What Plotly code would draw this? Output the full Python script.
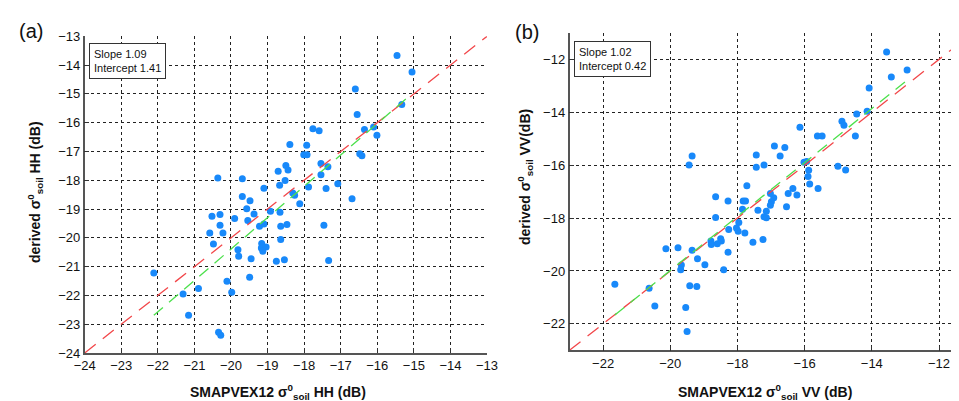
import plotly.graph_objects as go

W, H = 959, 401

# ---------------- data ----------------
hh_smap = [-20.36, -19.69, -19.10, -18.71, -15.46, -15.05, -16.60, -15.33, -16.55, -16.35,
           -16.10, -16.01, -17.76, -17.59, -18.39, -17.93, -18.01, -17.92, -16.48, -16.42,
           -17.54, -17.35, -18.50, -18.52, -18.67, -17.54, -17.08, -17.88, -17.40, -16.69,
           -18.31, -18.26, -18.12, -18.92, -18.66, -19.22, -19.10, -18.64, -18.47, -17.46,
           -18.64, -19.16, -19.17, -19.04, -19.13, -18.76, -18.54, -17.33, -22.11, -21.31,
           -20.89, -21.16, -20.34, -20.28, -20.11, -19.98, -19.49, -20.58, -20.48, -20.52,
           -20.30, -20.30, -20.22, -19.90, -19.81, -19.79, -19.69, -19.48, -19.57, -19.54,
           -19.37, -19.45, -18.44]
hh_derived = [-17.92, -17.95, -18.28, -17.69, -13.67, -14.24, -14.83, -15.37, -15.72, -16.24,
              -16.15, -16.44, -16.21, -16.28, -16.76, -16.78, -17.11, -17.11, -17.08, -17.15,
              -17.42, -17.53, -17.49, -18.01, -18.17, -17.81, -18.12, -18.23, -18.29, -18.64,
              -18.44, -18.52, -18.82, -19.08, -19.11, -19.60, -19.52, -19.60, -19.54, -19.56,
              -20.06, -20.20, -20.35, -20.32, -20.47, -20.81, -20.76, -20.79, -21.22, -21.95,
              -21.76, -22.69, -23.28, -23.38, -21.51, -21.89, -21.37, -19.83, -20.21, -19.25,
              -19.19, -19.56, -19.83, -19.33, -20.41, -20.64, -18.56, -18.71, -18.99, -19.40,
              -19.17, -20.73, -17.64]

vv_smap = [-19.35, -19.44, -17.44, -17.44, -17.72, -13.56, -13.42, -12.95, -14.08, -14.14,
           -14.45, -14.89, -14.83, -14.49, -15.62, -15.48, -16.14, -16.90, -16.59, -16.73,
           -17.21, -16.02, -15.94, -15.88, -15.90, -15.85, -15.01, -14.78, -16.35, -15.60,
           -16.49, -16.23, -16.92, -17.02, -16.99, -17.02, -16.54, -17.39, -17.14, -17.21,
           -17.14, -17.54, -17.24, -18.65, -18.28, -17.83, -17.76, -17.85, -18.65, -17.96,
           -18.03, -17.98, -18.26, -17.78, -18.79, -18.78, -18.60, -18.50, -18.48, -18.28,
           -18.41, -18.97, -19.19, -19.35, -19.77, -20.13, -19.67, -19.69, -19.42, -19.21,
           -20.63, -20.46, -19.54, -19.50, -21.65]
vv_derived = [-15.65, -15.99, -15.61, -16.08, -16.78, -11.72, -12.66, -12.40, -13.08, -13.96,
              -14.06, -14.34, -14.49, -14.90, -14.90, -14.90, -14.56, -15.27, -15.33, -15.65,
              -15.99, -15.89, -15.86, -16.19, -16.43, -16.71, -16.04, -16.18, -16.88, -16.88,
              -17.07, -17.13, -17.23, -17.07, -17.38, -17.51, -17.57, -17.70, -17.74, -17.95,
              -17.99, -18.91, -18.81, -17.19, -17.35, -17.35, -17.35, -17.67, -17.98, -18.17,
              -18.37, -18.50, -18.43, -18.56, -18.87, -19.00, -18.97, -18.78, -18.87, -19.29,
              -19.95, -19.76, -19.54, -19.22, -19.12, -19.16, -19.77, -19.95, -20.56, -20.59,
              -20.65, -21.32, -21.38, -22.29, -20.50]

hh_slope, hh_intercept = 1.09, 1.41
vv_slope, vv_intercept = 1.02, 0.42

hh_range = [-24, -13]
vv_xrange = [-23, -11.167]
vv_yrange = [-23, -11]

# ---------------- styling ----------------
PT_COLOR = "#1889FA"
RED = "#F2474A"
GREEN = "#4CE04C"
FONT = "Liberation Sans, Arial, Helvetica, sans-serif"


def px_x(p):
    return p / W


def px_y(p):
    return 1 - p / H


fig = go.Figure()

# Panel (a)
fig.add_trace(go.Scatter(x=hh_smap, y=hh_derived, mode="markers",
                         marker=dict(color=PT_COLOR, size=7, line=dict(width=0)),
                         xaxis="x", yaxis="y", showlegend=False))
fig.add_trace(go.Scatter(x=hh_range, y=hh_range, mode="lines",
                         line=dict(color=RED, width=1.3, dash="14px,9px"),
                         xaxis="x", yaxis="y", showlegend=False))
hx = [min(hh_smap), max(hh_smap)]
fig.add_trace(go.Scatter(x=hx, y=[hh_slope * v + hh_intercept for v in hx], mode="lines",
                         line=dict(color=GREEN, width=1.3, dash="12px,8px"),
                         xaxis="x", yaxis="y", showlegend=False))

# Panel (b)
fig.add_trace(go.Scatter(x=vv_smap, y=vv_derived, mode="markers",
                         marker=dict(color=PT_COLOR, size=7, line=dict(width=0)),
                         xaxis="x2", yaxis="y2", showlegend=False))
fig.add_trace(go.Scatter(x=[-23, -11], y=[-23, -11], mode="lines",
                         line=dict(color=RED, width=1.3, dash="14px,9px"),
                         xaxis="x2", yaxis="y2", showlegend=False))
vx = [min(vv_smap), max(vv_smap)]
fig.add_trace(go.Scatter(x=vx, y=[vv_slope * v + vv_intercept for v in vx], mode="lines",
                         line=dict(color=GREEN, width=1.3, dash="12px,8px"),
                         xaxis="x2", yaxis="y2", showlegend=False))

common = dict(showgrid=True, gridcolor="#222222", griddash="dot", gridwidth=1.2,
              showline=True, linecolor="#555555", linewidth=1.5,
              ticks="inside", ticklen=5, tickwidth=1.3, tickcolor="#333333",
              zeroline=False, tickfont=dict(family=FONT, size=13, color="#111111"),
              automargin=False)

fig.update_layout(
    width=W, height=H,
    margin=dict(l=0, r=0, t=0, b=0),
    paper_bgcolor="white", plot_bgcolor="white",
    font=dict(family=FONT, color="#111111"),
    xaxis=dict(domain=[px_x(76.7), px_x(479)], range=hh_range, tick0=-24, dtick=1,
               anchor="y", **common),
    yaxis=dict(domain=[px_y(345), px_y(28.3)], range=hh_range, tick0=-24, dtick=1,
               anchor="x", **common),
    xaxis2=dict(domain=[px_x(561.5), 1.0], range=vv_xrange, tick0=-22, dtick=2,
                anchor="y2", **common),
    yaxis2=dict(domain=[px_y(342.3), px_y(25)], range=vv_yrange, tick0=-22, dtick=2,
                anchor="x2", **common),
)

title_font = dict(family=FONT, size=14, color="#111111")
ann = [
    dict(text="<b>SMAPVEX12 σ<sup>0</sup><sub>soil</sub> HH (dB)</b>", x=px_x(270), y=px_y(384),
         font=title_font),
    dict(text="<b>derived σ<sup>0</sup><sub>soil</sub> HH (dB)</b>", x=px_x(27), y=px_y(184),
         font=title_font, textangle=-90),
    dict(text="<b>SMAPVEX12 σ<sup>0</sup><sub>soil</sub> VV (dB)</b>", x=px_x(757), y=px_y(384),
         font=title_font),
    dict(text="<b>derived σ<sup>0</sup><sub>soil</sub> VV(dB)</b>", x=px_x(517), y=px_y(169),
         font=title_font, textangle=-90),
    dict(text="(a)", x=px_x(23), y=px_y(23), font=dict(family=FONT, size=20, color="#111111")),
    dict(text="(b)", x=px_x(519), y=px_y(24), font=dict(family=FONT, size=20, color="#111111")),
]
for a in ann:
    fig.add_annotation(xref="paper", yref="paper", showarrow=False,
                       xanchor="center", yanchor="middle", **a)

box_font = dict(family=FONT, size=11, color="#111111")
fig.add_annotation(xref="paper", yref="paper", showarrow=False,
                   x=px_x(81), y=px_y(35), xanchor="left", yanchor="top", align="left",
                   text=f"Slope {hh_slope:.2f}<br>Intercept {hh_intercept:.2f}",
                   font=box_font, bordercolor="#333333", borderwidth=1, borderpad=4,
                   bgcolor="white")
fig.add_annotation(xref="paper", yref="paper", showarrow=False,
                   x=px_x(566), y=px_y(33), xanchor="left", yanchor="top", align="left",
                   text=f"Slope {vv_slope:.2f}<br>Intercept {vv_intercept:.2f}",
                   font=box_font, bordercolor="#333333", borderwidth=1, borderpad=4,
                   bgcolor="white")

fig.write_html("out.html")
